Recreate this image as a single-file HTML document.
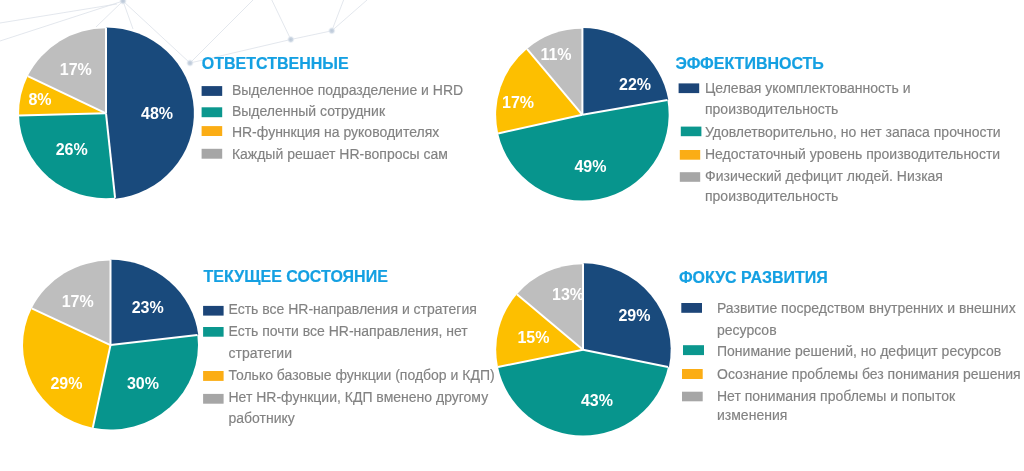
<!DOCTYPE html>
<html><head><meta charset="utf-8"><style>
html,body{margin:0;padding:0;background:#fff;width:1024px;height:471px;overflow:hidden}
svg{display:block;font-family:"Liberation Sans", sans-serif;will-change:transform;filter:blur(0.4px)}
</style></head><body>
<svg width="1024" height="471" viewBox="0 0 1024 471">
<line x1="0" y1="41" x2="123" y2="1" stroke="#dce1e8" stroke-width="0.8"/>
<line x1="0" y1="23" x2="117" y2="4" stroke="#dce1e8" stroke-width="0.8"/>
<line x1="123" y1="1" x2="96" y2="27" stroke="#dce1e8" stroke-width="0.8"/>
<line x1="123" y1="1" x2="133" y2="29" stroke="#dce1e8" stroke-width="0.8"/>
<line x1="123" y1="1" x2="190" y2="63" stroke="#dce1e8" stroke-width="0.8"/>
<line x1="190" y1="63" x2="253" y2="0" stroke="#dce1e8" stroke-width="0.8"/>
<line x1="271.8" y1="0" x2="290.8" y2="39.5" stroke="#dce1e8" stroke-width="0.8"/>
<line x1="343.6" y1="0" x2="331.8" y2="30.8" stroke="#dce1e8" stroke-width="0.8"/>
<line x1="190" y1="63" x2="290.8" y2="39.5" stroke="#dce1e8" stroke-width="0.8"/>
<line x1="290.8" y1="39.5" x2="331.8" y2="30.8" stroke="#dce1e8" stroke-width="0.8"/>
<line x1="331.8" y1="30.8" x2="367" y2="0" stroke="#dce1e8" stroke-width="0.8"/>
<defs><radialGradient id="ng"><stop offset="0" stop-color="#b9c6d6"/><stop offset="0.5" stop-color="#cdd7e3"/><stop offset="1" stop-color="#eef2f7" stop-opacity="0"/></radialGradient></defs>
<circle cx="123" cy="1" r="4" fill="url(#ng)"/>
<circle cx="190" cy="63" r="4" fill="url(#ng)"/>
<circle cx="290.8" cy="39.5" r="4" fill="url(#ng)"/>
<circle cx="331.8" cy="30.8" r="4" fill="url(#ng)"/>
<path d="M106.00,113.30 L106.00,27.40 A87.9,85.9 0 0 1 115.19,198.73 Z" fill="#194a7c"/>
<path d="M106.00,113.30 L115.09,197.83 A87,85 0 0 1 19.03,115.38 Z" fill="#07958d"/>
<path d="M106.00,113.30 L19.03,115.38 A87,85 0 0 1 27.80,76.04 Z" fill="#fdbf00"/>
<path d="M106.00,113.30 L27.80,76.04 A87,85 0 0 1 106.00,28.30 Z" fill="#bebebe"/>
<line x1="106.00" y1="113.30" x2="106.00" y2="27.40" stroke="#fff" stroke-width="2"/>
<line x1="106.00" y1="113.30" x2="115.09" y2="197.83" stroke="#fff" stroke-width="2"/>
<line x1="106.00" y1="113.30" x2="19.03" y2="115.38" stroke="#fff" stroke-width="2"/>
<line x1="106.00" y1="113.30" x2="27.80" y2="76.04" stroke="#fff" stroke-width="2"/>
<path d="M582.40,114.80 L582.40,27.90 A87.2,86.9 0 0 1 668.30,99.86 Z" fill="#194a7c"/>
<path d="M582.40,114.80 L667.41,100.01 A86.3,86 0 0 1 498.15,133.41 Z" fill="#07958d"/>
<path d="M582.40,114.80 L498.15,133.41 A86.3,86 0 0 1 526.93,48.92 Z" fill="#fdbf00"/>
<path d="M582.40,114.80 L526.93,48.92 A86.3,86 0 0 1 582.40,28.80 Z" fill="#bebebe"/>
<line x1="582.40" y1="114.80" x2="582.40" y2="27.90" stroke="#fff" stroke-width="2"/>
<line x1="582.40" y1="114.80" x2="667.41" y2="100.01" stroke="#fff" stroke-width="2"/>
<line x1="582.40" y1="114.80" x2="498.15" y2="133.41" stroke="#fff" stroke-width="2"/>
<line x1="582.40" y1="114.80" x2="526.93" y2="48.92" stroke="#fff" stroke-width="2"/>
<path d="M110.50,345.10 L110.50,259.70 A88.4,85.4 0 0 1 198.26,334.84 Z" fill="#194a7c"/>
<path d="M110.50,345.10 L197.37,334.95 A87.5,84.5 0 0 1 92.76,427.84 Z" fill="#07958d"/>
<path d="M110.50,345.10 L92.76,427.84 A87.5,84.5 0 0 1 31.72,308.32 Z" fill="#fdbf00"/>
<path d="M110.50,345.10 L31.72,308.32 A87.5,84.5 0 0 1 110.50,260.60 Z" fill="#bebebe"/>
<line x1="110.50" y1="345.10" x2="110.50" y2="259.70" stroke="#fff" stroke-width="2"/>
<line x1="110.50" y1="345.10" x2="197.37" y2="334.95" stroke="#fff" stroke-width="2"/>
<line x1="110.50" y1="345.10" x2="92.76" y2="427.84" stroke="#fff" stroke-width="2"/>
<line x1="110.50" y1="345.10" x2="31.72" y2="308.32" stroke="#fff" stroke-width="2"/>
<path d="M583.00,349.80 L583.00,263.30 A87.7,86.5 0 0 1 668.91,367.19 Z" fill="#194a7c"/>
<path d="M583.00,349.80 L668.03,367.01 A86.8,85.6 0 0 1 497.97,367.01 Z" fill="#07958d"/>
<path d="M583.00,349.80 L497.97,367.01 A86.8,85.6 0 0 1 516.90,294.32 Z" fill="#fdbf00"/>
<path d="M583.00,349.80 L516.90,294.32 A86.8,85.6 0 0 1 583.00,264.20 Z" fill="#bebebe"/>
<line x1="583.00" y1="349.80" x2="583.00" y2="263.30" stroke="#fff" stroke-width="2"/>
<line x1="583.00" y1="349.80" x2="668.03" y2="367.01" stroke="#fff" stroke-width="2"/>
<line x1="583.00" y1="349.80" x2="497.97" y2="367.01" stroke="#fff" stroke-width="2"/>
<line x1="583.00" y1="349.80" x2="516.90" y2="294.32" stroke="#fff" stroke-width="2"/>
<text x="59.8" y="75" font-size="16" font-weight="bold" fill="#fff">17%</text>
<text x="28.4" y="104.8" font-size="16" font-weight="bold" fill="#fff">8%</text>
<text x="141" y="119.3" font-size="16" font-weight="bold" fill="#fff">48%</text>
<text x="55.7" y="154.5" font-size="16" font-weight="bold" fill="#fff">26%</text>
<text x="540.4" y="60.4" font-size="16" font-weight="bold" fill="#fff">11%</text>
<text x="619" y="90" font-size="16" font-weight="bold" fill="#fff">22%</text>
<text x="502" y="108.4" font-size="16" font-weight="bold" fill="#fff">17%</text>
<text x="574.4" y="172.4" font-size="16" font-weight="bold" fill="#fff">49%</text>
<text x="61.7" y="306.6" font-size="16" font-weight="bold" fill="#fff">17%</text>
<text x="131.7" y="312.5" font-size="16" font-weight="bold" fill="#fff">23%</text>
<text x="50.4" y="389.3" font-size="16" font-weight="bold" fill="#fff">29%</text>
<text x="126.9" y="389.3" font-size="16" font-weight="bold" fill="#fff">30%</text>
<text x="552" y="299.7" font-size="16" font-weight="bold" fill="#fff">13%</text>
<text x="618.4" y="320.5" font-size="16" font-weight="bold" fill="#fff">29%</text>
<text x="517.4" y="343.4" font-size="16" font-weight="bold" fill="#fff">15%</text>
<text x="580.9" y="405.9" font-size="16" font-weight="bold" fill="#fff">43%</text>
<text x="201.8" y="68.6" font-size="16" font-weight="bold" fill="#14a0e2" stroke="#14a0e2" stroke-width="0.2">ОТВЕТСТВЕННЫЕ</text>
<rect x="201.6" y="86.1" width="20.60" height="9.80" fill="#1c4578"/>
<text x="231.9" y="95" font-size="14" fill="#828282" stroke="#828282" stroke-width="0.15">Выделенное подразделение и HRD</text>
<rect x="201.6" y="107.3" width="20.60" height="9.90" fill="#0b978e"/>
<text x="231.9" y="115.8" font-size="14" fill="#828282" stroke="#828282" stroke-width="0.15">Выделенный сотрудник</text>
<rect x="201.6" y="126.1" width="20.60" height="9.90" fill="#fbad15"/>
<text x="231.9" y="136.8" font-size="14" fill="#828282" stroke="#828282" stroke-width="0.15">HR-фуннкция на руководителях</text>
<rect x="201.6" y="148.8" width="20.60" height="9.90" fill="#a6a6a6"/>
<text x="231.9" y="158.9" font-size="14" fill="#828282" stroke="#828282" stroke-width="0.15">Каждый решает HR-вопросы сам</text>
<text x="675.5" y="68.7" font-size="16" font-weight="bold" fill="#14a0e2" stroke="#14a0e2" stroke-width="0.2">ЭФФЕКТИВНОСТЬ</text>
<rect x="678.6" y="83.4" width="20.60" height="9.70" fill="#1c4578"/>
<text x="705" y="93" font-size="14" fill="#828282" stroke="#828282" stroke-width="0.15">Целевая укомплектованность и</text>
<text x="705" y="114.3" font-size="14" fill="#828282" stroke="#828282" stroke-width="0.15">производительность</text>
<rect x="680.8" y="126.6" width="20.60" height="9.60" fill="#0b978e"/>
<text x="705" y="136.6" font-size="14" fill="#828282" stroke="#828282" stroke-width="0.15">Удовлетворительно, но нет запаса прочности</text>
<rect x="679.8" y="150" width="20.40" height="9.70" fill="#fbad15"/>
<text x="705" y="159.1" font-size="14" fill="#828282" stroke="#828282" stroke-width="0.15">Недостаточный уровень производительности</text>
<rect x="679.8" y="172.2" width="20.40" height="9.60" fill="#a6a6a6"/>
<text x="705" y="181.1" font-size="14" fill="#828282" stroke="#828282" stroke-width="0.15">Физический дефицит людей. Низкая</text>
<text x="705" y="200.8" font-size="14" fill="#828282" stroke="#828282" stroke-width="0.15">производительность</text>
<text x="203.6" y="282.3" font-size="16" font-weight="bold" fill="#14a0e2" stroke="#14a0e2" stroke-width="0.2">ТЕКУЩЕЕ СОСТОЯНИЕ</text>
<rect x="203.1" y="305.9" width="20.50" height="9.70" fill="#1c4578"/>
<text x="228.5" y="314.3" font-size="14" fill="#828282" stroke="#828282" stroke-width="0.15">Есть все HR-направления и стратегия</text>
<rect x="203.1" y="327" width="20.50" height="9.70" fill="#0b978e"/>
<text x="228.5" y="336.4" font-size="14" fill="#828282" stroke="#828282" stroke-width="0.15">Есть почти все HR-направления, нет</text>
<text x="228.5" y="358.3" font-size="14" fill="#828282" stroke="#828282" stroke-width="0.15">стратегии</text>
<rect x="203.1" y="371" width="20.50" height="9.90" fill="#fbad15"/>
<text x="228.5" y="380.1" font-size="14" fill="#828282" stroke="#828282" stroke-width="0.15">Только базовые функции (подбор и КДП)</text>
<rect x="203.1" y="393.9" width="20.50" height="9.80" fill="#a6a6a6"/>
<text x="228.5" y="402.3" font-size="14" fill="#828282" stroke="#828282" stroke-width="0.15">Нет HR-функции, КДП вменено другому</text>
<text x="228.5" y="423" font-size="14" fill="#828282" stroke="#828282" stroke-width="0.15">работнику</text>
<text x="678.9" y="282.7" font-size="16" font-weight="bold" fill="#14a0e2" stroke="#14a0e2" stroke-width="0.2">ФОКУС РАЗВИТИЯ</text>
<rect x="681.3" y="303" width="20.70" height="9.80" fill="#1c4578"/>
<text x="717" y="313" font-size="14" fill="#828282" stroke="#828282" stroke-width="0.15">Развитие посредством внутренних и внешних</text>
<text x="717" y="335" font-size="14" fill="#828282" stroke="#828282" stroke-width="0.15">ресурсов</text>
<rect x="683" y="345.2" width="21.00" height="9.90" fill="#0b978e"/>
<text x="717" y="356.4" font-size="14" fill="#828282" stroke="#828282" stroke-width="0.15">Понимание решений, но дефицит ресурсов</text>
<rect x="682" y="369" width="20.70" height="10.00" fill="#fbad15"/>
<text x="717" y="378.5" font-size="14" fill="#828282" stroke="#828282" stroke-width="0.15">Осознание проблемы без понимания решения</text>
<rect x="682" y="391.7" width="20.70" height="9.60" fill="#a6a6a6"/>
<text x="717" y="400.5" font-size="14" fill="#828282" stroke="#828282" stroke-width="0.15">Нет понимания проблемы и попыток</text>
<text x="717" y="420.4" font-size="14" fill="#828282" stroke="#828282" stroke-width="0.15">изменения</text>
</svg>
</body></html>
